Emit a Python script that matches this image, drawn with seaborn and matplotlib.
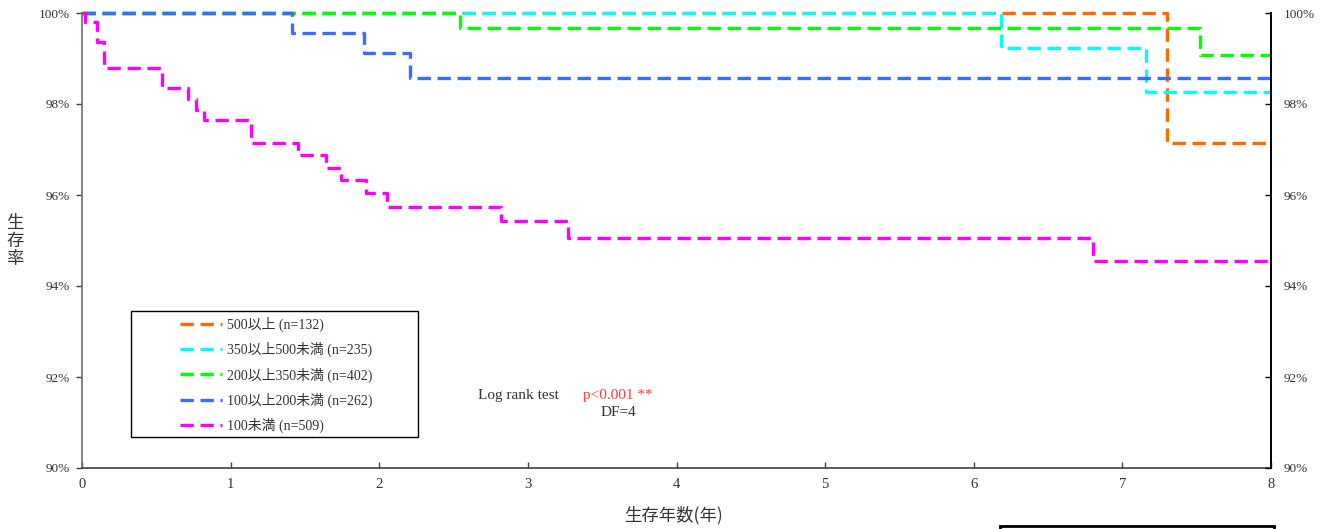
import numpy as np
import pandas as pd
import matplotlib
matplotlib.use("Agg")
import matplotlib.pyplot as plt
from matplotlib.patches import Rectangle
from matplotlib.ticker import FuncFormatter
import seaborn as sns

# Kaplan-Meier survival curves (step points: time in years, survival in %)
groups = ["500以上 (n=132)", "350以上500未満 (n=235)", "200以上350未満 (n=402)",
          "100以上200未満 (n=262)", "100未満 (n=509)"]
colors = ["#FF6A00", "#00FFFF", "#00FF00", "#3D6BFF", "#FF00FF"]

t_500 = [0, 7.30, 8.0]
s_500 = [100, 97.14, 97.14]
t_350 = [0, 6.18, 7.16, 8.0]
s_350 = [100, 99.23, 98.26, 98.26]
t_200 = [0, 2.54, 7.52, 8.0]
s_200 = [100, 99.67, 99.08, 99.08]
t_100 = [0, 1.41, 1.90, 2.21, 8.0]
s_100 = [100, 99.56, 99.11, 98.58, 98.58]
t_lt100 = [0, 0.02, 0.10, 0.15, 0.54, 0.71, 0.77, 0.82, 1.14, 1.45, 1.64,
           1.74, 1.91, 2.05, 2.82, 3.27, 6.80, 8.0]
s_lt100 = [100, 99.81, 99.37, 98.80, 98.36, 98.11, 97.87, 97.65, 97.14, 96.87,
           96.60, 96.33, 96.05, 95.74, 95.42, 95.05, 94.54, 94.54]

x_ticks = [0, 1, 2, 3, 4, 5, 6, 7, 8]
y_ticks = [90, 92, 94, 96, 98, 100]

frames = []
for name, t, s in zip(groups, [t_500, t_350, t_200, t_100, t_lt100],
                      [s_500, s_350, s_200, s_100, s_lt100]):
    frames.append(pd.DataFrame({"年": t, "生存率": s, "群": name}))
df = pd.concat(frames, ignore_index=True)

sns.set_theme(style="white")
plt.rcParams["font.family"] = ["Liberation Serif", "Noto Sans CJK JP"]
plt.rcParams["axes.unicode_minus"] = False

fig = plt.figure(figsize=(13.27, 5.29), dpi=100)
ax = fig.add_axes([82 / 1327, 1 - 468 / 529, (1271 - 82) / 1327, (468 - 13) / 529])

dash = (0, (4, 2))
sns.lineplot(data=df, x="年", y="生存率", hue="群", hue_order=groups,
             palette=colors, estimator=None, sort=False, drawstyle="steps-post",
             linewidth=2.4, linestyle=dash, legend=False, ax=ax)
for ln in ax.get_lines():
    ln.set_clip_on(False)
    ln.set_dash_capstyle("butt")

ax.set_xlim(0, 8)
ax.set_ylim(90, 100)
ax.set_xticks(x_ticks)
ax.set_yticks(y_ticks)
pct = FuncFormatter(lambda v, p: f"{v:.0f}%")
ax.yaxis.set_major_formatter(pct)
ax.set_xlabel("")
ax.set_ylabel("")

ax.spines["top"].set_visible(False)
ax.spines["left"].set_color("#707070")
ax.spines["left"].set_linewidth(1.2)
ax.spines["bottom"].set_color("#404040")
ax.spines["bottom"].set_linewidth(1.2)
ax.spines["right"].set_color("black")
ax.spines["right"].set_linewidth(1.2)

ax.tick_params(axis="y", left=True, direction="out", length=4, width=1,
               color="#404040", labelsize=9.5, labelcolor="#333333", pad=5)
ax.tick_params(axis="x", bottom=True, direction="in", length=4, width=1,
               color="#404040", labelsize=10.5, labelcolor="#333333", pad=7)

ax2 = ax.twinx()
ax2.set_ylim(90, 100)
ax2.set_yticks(y_ticks)
ax2.yaxis.set_major_formatter(pct)
ax2.tick_params(axis="y", right=True, direction="in", length=4, width=1,
                color="black", labelsize=9.5, labelcolor="#333333", pad=9)
for side in ["top", "left", "bottom"]:
    ax2.spines[side].set_visible(False)
ax2.spines["right"].set_color("black")
ax2.spines["right"].set_linewidth(1.2)

# Axis titles
fig.text(15 / 1327, 1 - 241 / 529, "生\n存\n率", ha="center", va="center",
         fontsize=12.5, color="#333333", linespacing=1.0,
         family=["Noto Sans CJK JP"])
fig.text(673 / 1327, 1 - 515 / 529, "生存年数(年)", ha="center", va="center",
         fontsize=12.5, color="#333333", family=["Noto Sans CJK JP"])

# Log-rank result
ax.text(2.665, 91.59, "Log rank test", ha="left", va="center", fontsize=11,
        color="#333333")
ax.text(3.37, 91.59, "p<0.001 **", ha="left", va="center", fontsize=11,
        color="#FF3B3B")
ax.text(3.486, 91.21, "DF=4", ha="left", va="center", fontsize=11,
        color="#333333")

# Legend in a boxed frame
handles = ax.get_lines()[:5]
leg = ax.legend(handles, groups, loc="upper left",
                bbox_to_anchor=(180 / 1327, 1 - 317 / 529),
                bbox_transform=fig.transFigure, frameon=False, fontsize=10,
                handlelength=3.0, handletextpad=0.35, labelspacing=0.72,
                borderpad=0, borderaxespad=0)
for txt in leg.get_texts():
    txt.set_color("#333333")
fig.patches.append(Rectangle((131 / 1327, 1 - 437 / 529), 287 / 1327, 126 / 529,
                             transform=fig.transFigure, fill=False,
                             edgecolor="black", linewidth=1.0))
fig.patches.append(Rectangle((1000 / 1327, -0.1), 274 / 1327, 0.1 + 3 / 529,
                             transform=fig.transFigure, fill=False,
                             edgecolor="black", linewidth=2.0, clip_on=False))

fig.savefig("out.png", dpi=100)
